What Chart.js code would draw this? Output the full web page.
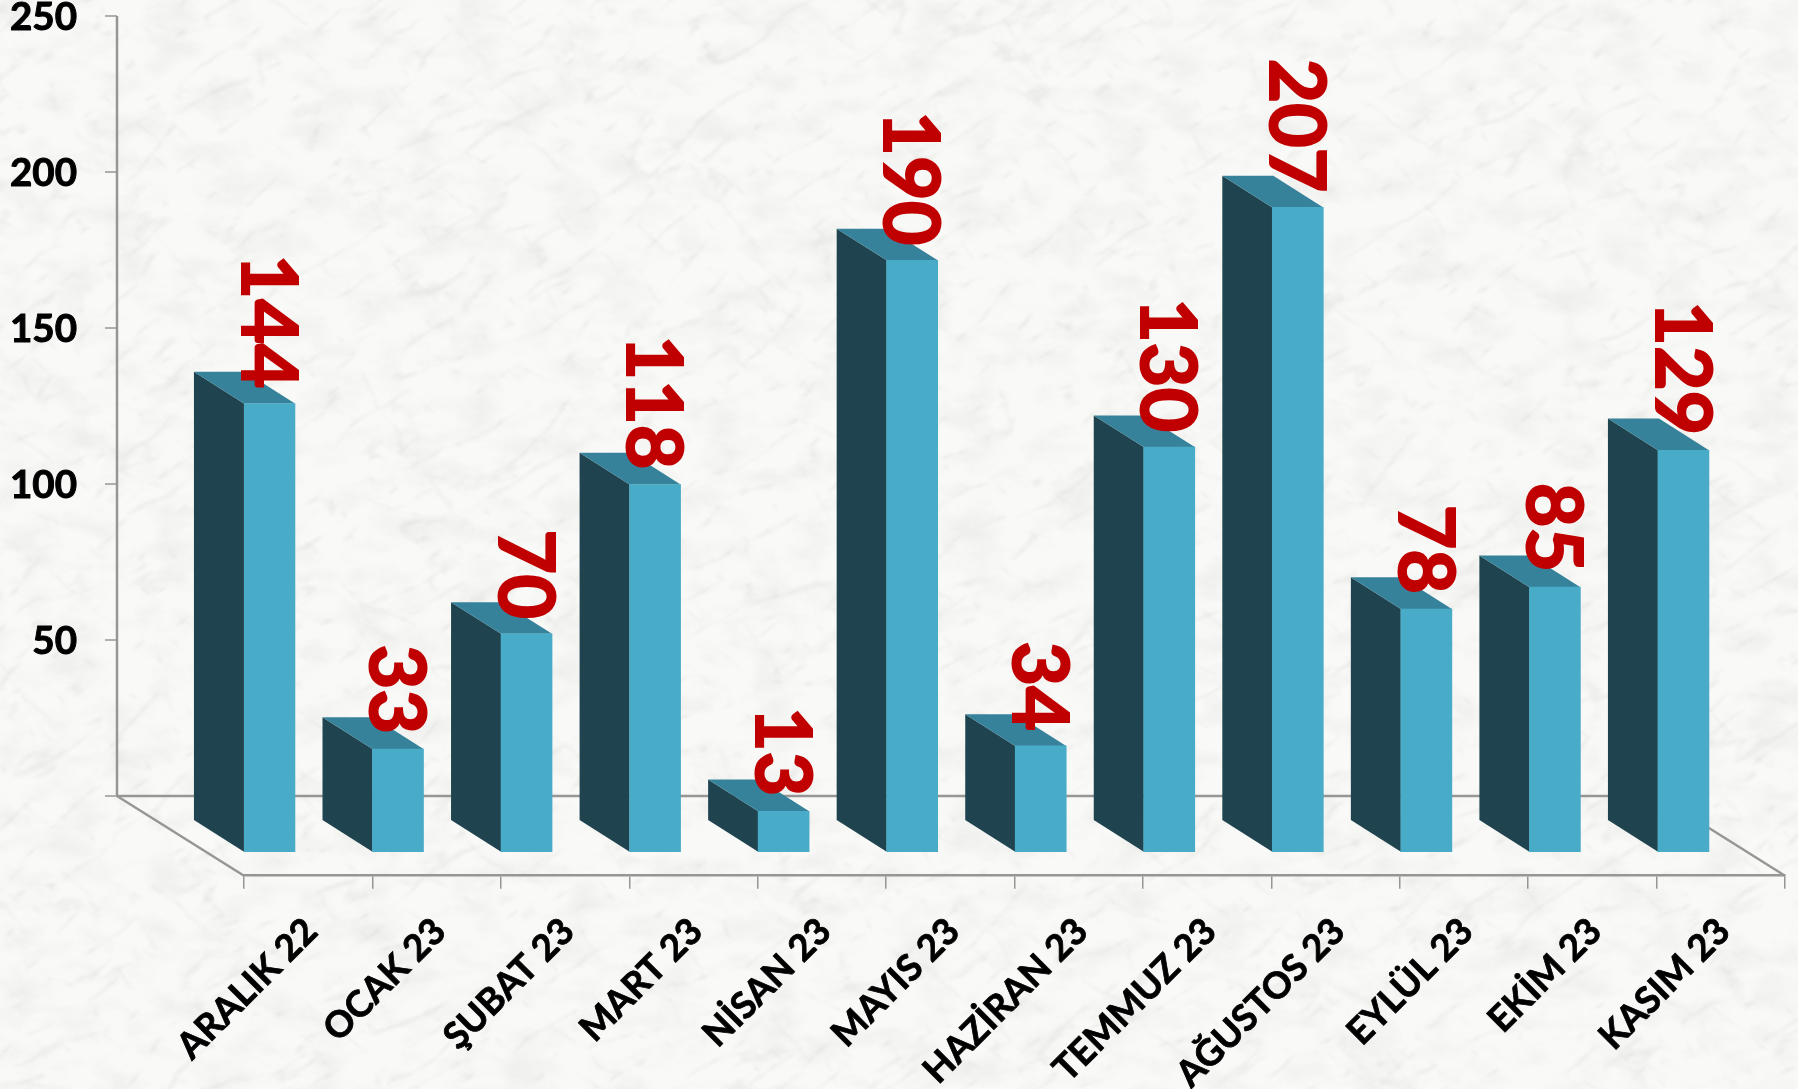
<!DOCTYPE html>
<html>
<head>
<meta charset="utf-8">
<title>Aylara göre sayılar</title>
<script src="https://cdn.jsdelivr.net/npm/chart.js@4"></script>
<style>
    html, body { margin: 0; padding: 0; background: #f7f7f5; }
    #wrap { position: relative; width: 1798px; height: 1089px; overflow: hidden; }
    #marble { position: absolute; left: 0; top: 0; }
    #chartBox { position: absolute; left: 0; top: 0; width: 1798px; height: 1089px; }
</style>
</head>
<body>
<div id="wrap">
    <svg id="marble" width="1798" height="1089">
        <filter id="clouds" x="0" y="0" width="100%" height="100%">
            <feTurbulence type="fractalNoise" baseFrequency="0.02 0.035" numOctaves="5" seed="4"/>
            <feColorMatrix type="matrix" values="0 0 0 0 0.62  0 0 0 0 0.62  0 0 0 0 0.6  2.4 0 0 0 -1.05"/>
        </filter>
        <filter id="veins" x="0" y="0" width="100%" height="100%">
            <feTurbulence type="turbulence" baseFrequency="0.008 0.026" numOctaves="4" seed="11"/>
            <feColorMatrix type="matrix" values="0 0 0 0 0.6  0 0 0 0 0.6  0 0 0 0 0.57  -5 0 0 0 0.8"/>
            <feGaussianBlur stdDeviation="1"/>
        </filter>
        <filter id="veins2" x="0" y="0" width="100%" height="100%">
            <feTurbulence type="turbulence" baseFrequency="0.009 0.022" numOctaves="4" seed="23"/>
            <feColorMatrix type="matrix" values="0 0 0 0 0.6  0 0 0 0 0.6  0 0 0 0 0.57  -5 0 0 0 0.7"/>
            <feGaussianBlur stdDeviation="1"/>
        </filter>
        <rect width="1798" height="1089" fill="#f9f9f7"/>
        <rect width="1798" height="1089" filter="url(#clouds)" opacity="0.22"/>
        <rect x="-600" y="-600" width="3000" height="2400" transform="rotate(-32 899 544)" filter="url(#veins)" opacity="0.4"/>
        <rect x="-600" y="-600" width="3000" height="2400" transform="rotate(38 899 544)" filter="url(#veins2)" opacity="0.3"/>
    </svg>
    <div id="chartBox"><canvas id="myChart" width="1798" height="1089"></canvas></div>
</div>
<script>
const categories = ['ARALIK 22', 'OCAK 23', 'ŞUBAT 23', 'MART 23', 'NİSAN 23', 'MAYIS 23', 'HAZİRAN 23', 'TEMMUZ 23', 'AĞUSTOS 23', 'EYLÜL 23', 'EKİM 23', 'KASIM 23'];
const values = [144, 33, 70, 118, 13, 190, 34, 130, 207, 78, 85, 129];
const yTicks = [0, 50, 100, 150, 200, 250];

// depth of the fake 3d box in pixels
const barDepthX = 50;
const barDepthY = 31.7;
const wallDepthX = 127;

const frontColor = '#48abc7';
const sideColor = '#1f4450';
const topColor = '#37829b';
const axisColor = '#969696';
const labelColor = '#c00000';
const fontName = 'Lato, Carlito, sans-serif';

function drawLine(ctx, x1, y1, x2, y2, width) {
    ctx.lineWidth = width;
    ctx.beginPath();
    ctx.moveTo(x1, y1);
    ctx.lineTo(x2, y2);
    ctx.stroke();
}

function drawFace(ctx, points, color) {
    ctx.fillStyle = color;
    ctx.beginPath();
    points.forEach((p, i) => {
        if (i === 0) ctx.moveTo(p[0], p[1]);
        else ctx.lineTo(p[0], p[1]);
    });
    ctx.closePath();
    ctx.fill();
}

const wallPlugin = {
    id: 'wall',
    beforeDatasetsDraw(chart) {
        const ctx = chart.ctx;
        const y = chart.scales.y;
        const area = chart.chartArea;
        const wallX = area.left - wallDepthX;
        const floorY = y.getPixelForValue(0);
        ctx.save();
        ctx.strokeStyle = axisColor;
        drawLine(ctx, wallX, y.getPixelForValue(250), wallX, floorY, 2.5);
        yTicks.forEach(v => {
            const tickY = y.getPixelForValue(v);
            drawLine(ctx, wallX - 12, tickY, wallX, tickY, 1.5);
        });
        drawLine(ctx, wallX, floorY, area.right - wallDepthX, floorY, 2.5);
        drawLine(ctx, wallX, floorY, area.left, area.bottom, 2.5);
        drawLine(ctx, area.right - wallDepthX, floorY, area.right, area.bottom, 2.5);
        ctx.restore();

        // side and top of every box, taken from the bar the library laid out
        chart.getDatasetMeta(0).data.forEach(bar => {
            const left = bar.x - bar.width / 2;
            const right = bar.x + bar.width / 2;
            drawFace(ctx, [[left, bar.y], [left - barDepthX, bar.y - barDepthY], [left - barDepthX, bar.base - barDepthY], [left, bar.base]], sideColor);
            drawFace(ctx, [[left, bar.y], [left - barDepthX, bar.y - barDepthY], [right - barDepthX, bar.y - barDepthY], [right, bar.y]], topColor);
        });
    },
    afterDatasetsDraw(chart) {
        const ctx = chart.ctx;
        chart.getDatasetMeta(0).data.forEach((bar, i) => {
            ctx.save();
            ctx.translate(bar.x - 3, bar.y - 15);
            ctx.rotate(Math.PI / 2);
            ctx.font = 'bold 77px ' + fontName;
            ctx.fillStyle = labelColor;
            ctx.strokeStyle = labelColor;
            ctx.lineWidth = 2;
            ctx.textAlign = 'right';
            ctx.textBaseline = 'middle';
            ctx.fillText(values[i], 0, 0);
            ctx.strokeText(values[i], 0, 0);
            ctx.restore();
        });
    }
};

const ctx = document.getElementById('myChart').getContext('2d');
new Chart(ctx, {
    type: 'bar',
    data: {
        labels: categories,
        datasets: [{
            data: values.map((v, i) => ({ x: i, y: v })),
            xAxisID: 'xf',
            yAxisID: 'yf',
            backgroundColor: frontColor,
            barThickness: 51
        }]
    },
    plugins: [wallPlugin],
    options: {
        responsive: false,
        animation: false,
        layout: { padding: { top: 16, right: 13 } },
        plugins: { legend: { display: false }, tooltip: { enabled: false } },
        scales: {
            x: {
                type: 'category',
                offset: true,
                afterFit(scale) { scale.height = 213.3; },
                grid: { offset: true, drawOnChartArea: false, drawTicks: true, tickLength: 13, color: axisColor, lineWidth: 1.5 },
                border: { display: true, color: axisColor, width: 2.5 },
                ticks: {
                    autoSkip: false,
                    minRotation: 45,
                    maxRotation: 45,
                    padding: 21,
                    labelOffset: 3,
                    color: '#000',
                    textStrokeColor: '#000',
                    textStrokeWidth: 0.8,
                    font: { family: fontName, size: 36.5, weight: 'bold' }
                }
            },
            y: {
                position: 'left',
                min: -25.54,
                max: 250,
                afterFit(scale) { scale.width = 244; },
                afterBuildTicks(scale) { scale.ticks = yTicks.map(v => ({ value: v })); },
                grid: { display: false, drawTicks: true, tickLength: 167 },
                border: { display: false },
                ticks: {
                    padding: 0,
                    labelOffset: 2,
                    color: '#000',
                    textStrokeColor: '#000',
                    textStrokeWidth: 1,
                    font: { family: fontName, size: 38.5, weight: 'bold', lineHeight: 0.8 },
                    callback: v => (v === 0 ? '' : v)
                }
            },
            // hidden scales that place the front faces
            xf: { type: 'linear', axis: 'x', display: false, offset: false, min: -0.198, max: 11.79 },
            yf: { type: 'linear', axis: 'y', display: false, min: -7.69, max: 268.5 }
        }
    }
});
</script>
</body>
</html>
